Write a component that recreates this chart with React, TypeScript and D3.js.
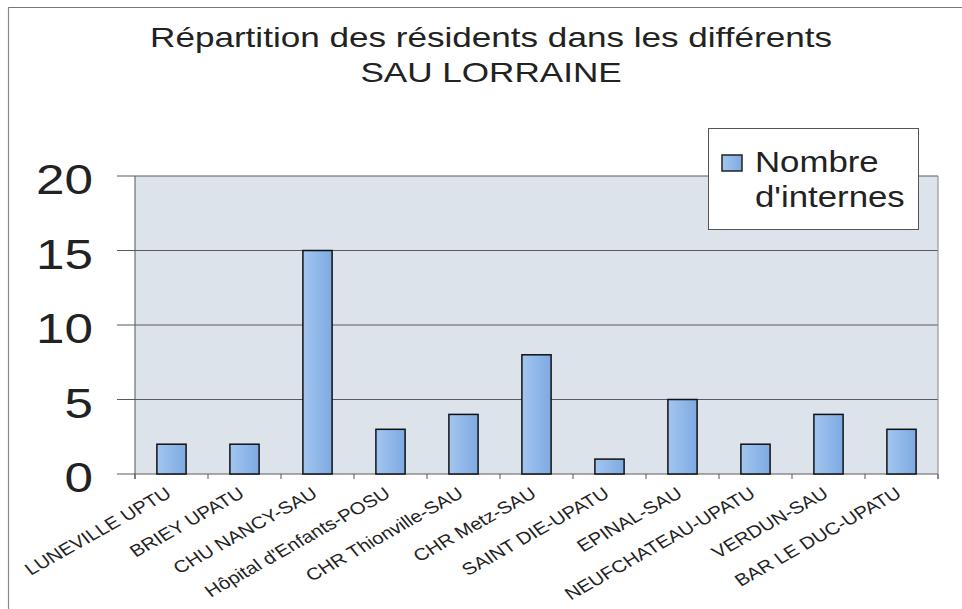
import React from "react";
import * as d3 from "d3";

const categories = [
  "LUNEVILLE UPTU",
  "BRIEY UPATU",
  "CHU NANCY-SAU",
  "Hôpital d'Enfants-POSU",
  "CHR Thionville-SAU",
  "CHR Metz-SAU",
  "SAINT DIE-UPATU",
  "EPINAL-SAU",
  "NEUFCHATEAU-UPATU",
  "VERDUN-SAU",
  "BAR LE DUC-UPATU",
];
const internes = [2, 2, 15, 3, 4, 8, 1, 5, 2, 4, 3];
const yTicks = [0, 5, 10, 15, 20];
const titleLines = ["Répartition des résidents dans les différents", "SAU LORRAINE"];
const legendLines = ["Nombre", "d'internes"];

const W = 962;
const H = 609;
const PL = 135;
const PR = 938;
const PT = 176;
const PB = 474;
const FONT = "'Liberation Sans', Arial, Helvetica, sans-serif";

export default function App() {
  const x = d3
    .scaleBand<string>()
    .domain(categories)
    .range([PL, PR])
    .paddingInner(0.6)
    .paddingOuter(0.3);
  const y = d3.scaleLinear().domain([0, 20]).range([PB, PT]);
  const step = x.step();
  const boundaries = d3.range(categories.length + 1).map((k) => PL + k * step);

  return (
    <svg
      width={W}
      height={H}
      style={{ position: "absolute", left: 0, top: 0, background: "#fff" }}
      fontFamily={FONT}
    >
      <defs>
        <linearGradient id="barGrad" x1="0" x2="1" y1="0" y2="0">
          <stop offset="0%" stopColor="#a3c6f0" />
          <stop offset="100%" stopColor="#7eaae2" />
        </linearGradient>
        <clipPath id="labelClip">
          <rect x={0} y={485} width={W} height={H - 485} />
        </clipPath>
      </defs>
      <rect x={0} y={0} width={W} height={H} fill="#fff" />
      {/* outer frame */}
      <line x1={8} x2={W} y1={7.5} y2={7.5} stroke="#777" strokeWidth={1.2} />
      <line x1={8.5} x2={8.5} y1={7} y2={H} stroke="#888" strokeWidth={1.2} />

      {/* title */}
      {titleLines.map((t, i) => (
        <text
          key={t}
          transform={`translate(491, ${47 + i * 35}) scale(1.3, 1)`}
          textAnchor="middle"
          fontSize={27}
          fill="#222"
        >
          {t}
        </text>
      ))}

      {/* plot area */}
      <rect x={PL} y={PT} width={PR - PL} height={PB - PT} fill="#dde3eb" />
      {yTicks.map((v) => (
        <line
          key={v}
          x1={117}
          x2={PR}
          y1={y(v)}
          y2={y(v)}
          stroke="#5a5a5a"
          strokeWidth={1}
        />
      ))}
      <line x1={PR} x2={PR} y1={PT} y2={PB + 5} stroke="#888" strokeWidth={1} />
      <line x1={PL} x2={PL} y1={PT} y2={PB + 5} stroke="#555" strokeWidth={1} />
      {boundaries.map((b, i) => (
        <line key={i} x1={b} x2={b} y1={PB} y2={PB + 5} stroke="#555" strokeWidth={1} />
      ))}

      {/* bars */}
      {categories.map((c, i) => (
        <rect
          key={c}
          x={x(c)}
          y={y(internes[i])}
          width={x.bandwidth()}
          height={y(0) - y(internes[i])}
          fill="url(#barGrad)"
          stroke="#111"
          strokeWidth={1.5}
        />
      ))}

      {/* y labels */}
      {yTicks.map((v) => (
        <text
          key={v}
          transform={`translate(93, ${y(v) + 3}) scale(1.22, 1)`}
          textAnchor="end"
          dy="0.36em"
          fontSize={42}
          fill="#222"
        >
          {v}
        </text>
      ))}

      {/* category labels */}
      <g clipPath="url(#labelClip)">
        {categories.map((c) => (
          <text
            key={c}
            transform={`translate(${(x(c) as number) + x.bandwidth() / 2 - 3}, 491) scale(1.2, 1) rotate(-34)`}
            textAnchor="end"
            dy="0.36em"
            fontSize={17}
            fill="#222"
          >
            {c}
          </text>
        ))}
      </g>

      {/* legend */}
      <rect x={708.5} y={128.5} width={210} height={101} fill="#fff" stroke="#555" strokeWidth={1} />
      <rect x={722} y={155} width={20} height={16} fill="url(#barGrad)" stroke="#222" strokeWidth={1.5} />
      {legendLines.map((t, i) => (
        <text
          key={t}
          transform={`translate(755, ${172 + i * 35}) scale(1.2, 1)`}
          fontSize={29}
          fill="#222"
        >
          {t}
        </text>
      ))}
    </svg>
  );
}
